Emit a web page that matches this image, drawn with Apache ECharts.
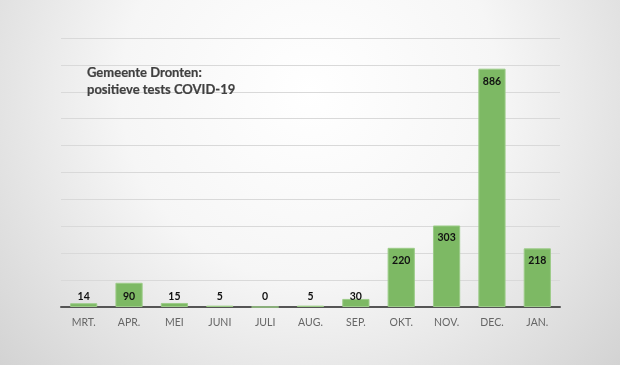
<!DOCTYPE html>
<html><head><meta charset="utf-8">
<script src="https://cdn.jsdelivr.net/npm/echarts@6/dist/echarts.min.js"></script>
<style>html,body{margin:0;padding:0;}#c{width:620px;height:365px;}</style>
</head><body><div id="c"></div>
<script>
const categories = ['MRT.','APR.','MEI','JUNI','JULI','AUG.','SEP.','OKT.','NOV.','DEC.','JAN.'];
const values = [14, 90, 15, 5, 0, 5, 30, 220, 303, 886, 218];
const titleLines = ['Gemeente Dronten:', 'positieve tests COVID-19'];
const bigThreshold = 100;

const chart = echarts.init(document.getElementById('c'));
chart.setOption({
  backgroundColor: {type:'radial', x:0.5, y:0.25, r:1.15,
    colorStops:[{offset:0,color:'#ffffff'},{offset:0.45,color:'#f6f6f6'},{offset:1,color:'#d2d2d2'}]},
  animation:false,
  title:{text:titleLines.join('\n'), left:82, top:59,
    textStyle:{fontFamily:'Lato', fontSize:13, fontWeight:'bold', color:'#404040', lineHeight:17, textBorderColor:'#404040', textBorderWidth:0.2}},
  grid:{left:61, right:60, top:38, bottom:58},
  xAxis:{type:'category', data:categories,
    axisLine:{lineStyle:{color:'#555', width:2}},
    axisTick:{show:false},
    axisLabel:{color:'#666', fontFamily:'Lato', fontSize:10.5, margin:10}},
  yAxis:{type:'value', min:0, max:1000, interval:100,
    axisLabel:{show:false}, axisLine:{show:false}, axisTick:{show:false},
    splitLine:{lineStyle:{color:'#d9d9d9', width:1}}},
  series:[{type:'bar', barCategoryGap:'40%',
    data: values.map(v => ({value:v, label:{position: v>=bigThreshold ? 'insideTop' : 'insideBottom', distance: v>=bigThreshold ? 7 : 5}})),
    itemStyle:{color:'#7db964', borderColor:'#9ccc88', borderWidth:1},
    label:{show:true, color:'#111', fontFamily:'Lato', fontWeight:'bold', fontSize:10.5}
  }]
});
</script></body></html>
